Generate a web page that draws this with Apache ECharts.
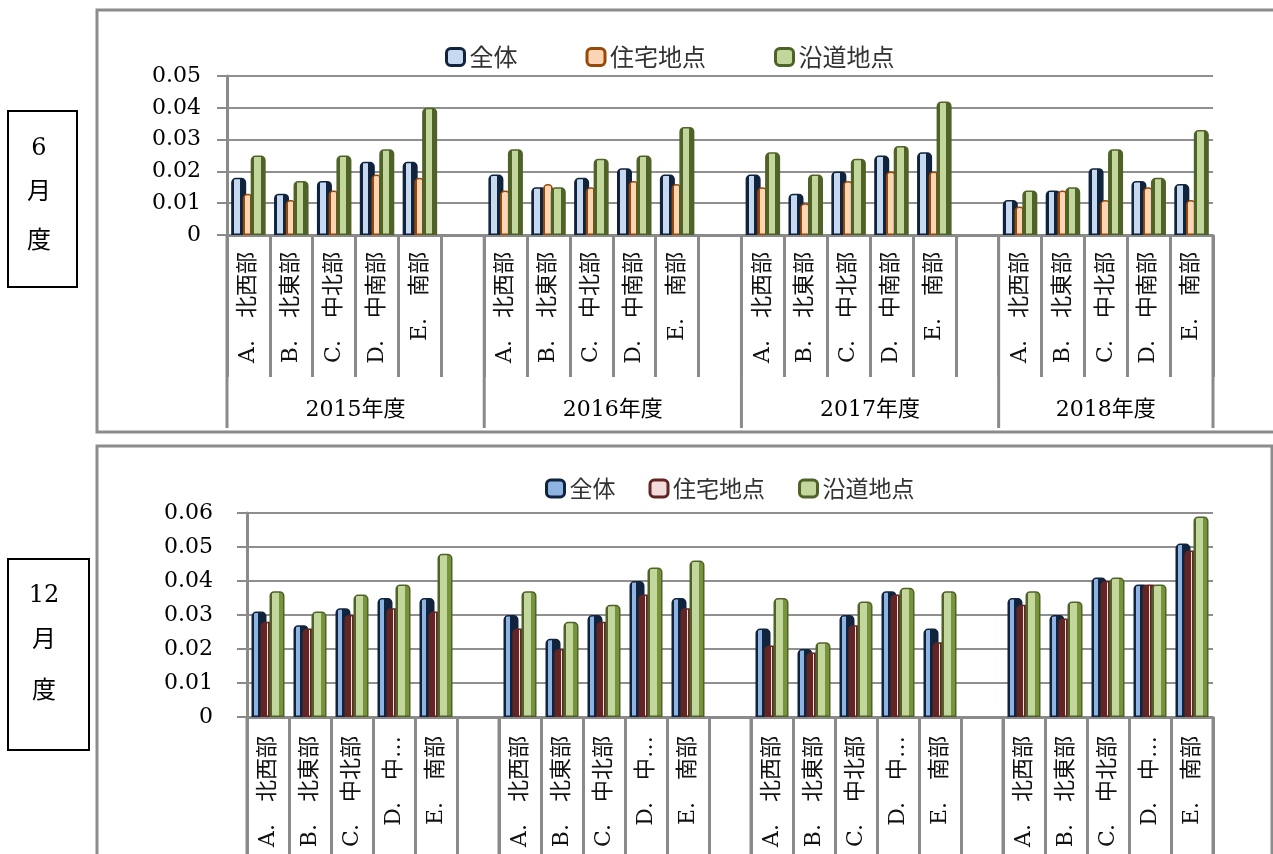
<!DOCTYPE html>
<html><head><meta charset="utf-8">
<script src="https://cdn.jsdelivr.net/npm/echarts@6/dist/echarts.min.js"></script>
<style>html,body{margin:0;padding:0;background:#fff;}#c{width:1273px;height:854px;}</style>
</head><body><div id="c"></div>
<script>
// ---------- data ----------
const seriesNames = ['全体', '住宅地点', '沿道地点'];
const years = ['2015年度', '2016年度', '2017年度', '2018年度'];
const regionsTop = ['A.\u3000北西部', 'B.\u3000北東部', 'C.\u3000中北部', 'D.\u3000中南部', 'E.\u3000南部'];
const regionsBottom = ['A.\u3000北西部', 'B.\u3000北東部', 'C.\u3000中北部', 'D.\u3000中…', 'E.\u3000南部'];
const yTicksTop = [0, 0.01, 0.02, 0.03, 0.04, 0.05];
const yTicksBottom = [0, 0.01, 0.02, 0.03, 0.04, 0.05, 0.06];
const monthTop = ['6', '月', '度'];
const monthBottom = ['12', '月', '度'];

// June (6月度): per year, regions A..E
const junAll  = [[0.018,0.013,0.017,0.023,0.023],[0.019,0.015,0.018,0.021,0.019],[0.019,0.013,0.020,0.025,0.026],[0.011,0.014,0.021,0.017,0.016]];
const junRes  = [[0.013,0.011,0.014,0.019,0.018],[0.014,0.016,0.015,0.017,0.016],[0.015,0.010,0.017,0.020,0.020],[0.009,0.014,0.011,0.015,0.011]];
const junRoad = [[0.025,0.017,0.025,0.027,0.040],[0.027,0.015,0.024,0.025,0.034],[0.026,0.019,0.024,0.028,0.042],[0.014,0.015,0.027,0.018,0.033]];
// December (12月度)
const decAll  = [[0.031,0.027,0.032,0.035,0.035],[0.030,0.023,0.030,0.040,0.035],[0.026,0.020,0.030,0.037,0.026],[0.035,0.030,0.041,0.039,0.051]];
const decRes  = [[0.028,0.026,0.030,0.032,0.031],[0.026,0.020,0.028,0.036,0.032],[0.021,0.019,0.027,0.036,0.022],[0.033,0.029,0.040,0.039,0.049]];
const decRoad = [[0.037,0.031,0.036,0.039,0.048],[0.037,0.028,0.033,0.044,0.046],[0.035,0.022,0.034,0.038,0.037],[0.037,0.034,0.041,0.039,0.059]];

// ---------- helpers ----------
function flatCats(regions) {
  const out = [];
  years.forEach((y, i) => { regions.forEach(r => out.push(r)); if (i < years.length - 1) out.push(''); });
  return out;
}
function flatVals(groups) {
  const out = [];
  groups.forEach((g, i) => { g.forEach(v => out.push(v)); if (i < groups.length - 1) out.push(null); });
  return out;
}
function grad(stops) {
  return new echarts.graphic.LinearGradient(0, 0, 1, 0, stops.map(s => ({offset: s[0], color: s[1]})));
}
function band(dark, light, a, b, dark2) {
  dark2 = dark2 || dark;
  return grad([[0, dark], [a, dark], [a, light], [b, light], [b, dark2], [1, dark2]]);
}

const catTop = flatCats(regionsTop);
const catBottom = flatCats(regionsBottom);

const numFont = '"DejaVu Serif", "Noto Sans CJK JP"';
const axisGray = '#8a8a8a';

const styles = {
  top: [
    {dark: '#10243e', light: '#c6d9f1', a: 0.2, b: 0.58},
    {dark: '#984807', light: '#fcd5b5', a: 0.22, b: 0.76},
    {dark: '#4f6228', light: '#c3d69b', a: 0.24, b: 0.66}
  ],
  bottom: [
    {dark: '#10243e', light: '#8db4e2', a: 0.14, b: 0.45},
    {dark: '#632523', light: '#f2dcdb', a: 0.42, b: 0.52},
    {dark: '#4f6228', light: '#c3d69b', a: 0.14, b: 0.66, dark2: '#77933c'}
  ]
};

function makeSeries(idx, datas, st, widths) {
  return datas.map((d, i) => ({
    name: seriesNames[i],
    type: 'bar',
    xAxisIndex: idx, yAxisIndex: idx,
    data: flatVals(d),
    barWidth: widths[i],
    barGap: idx === 0 ? '-22%' : '-40%',
    itemStyle: {
      color: band(st[i].dark, st[i].light, st[i].a, st[i].b, st[i].dark2),
      borderColor: st[i].dark, borderWidth: 1.5, borderRadius: [4, 4, 0, 0]
    }
  }));
}

function xAxisCfg(idx, cats, margin) {
  return {
    type: 'category', gridIndex: idx, data: cats,
    axisLine: {lineStyle: {color: axisGray, width: 3}},
    axisTick: {show: true, interval: 0, length: 142, lineStyle: {color: axisGray, width: 3}},
    axisLabel: {interval: 0, rotate: 90, margin: margin, fontSize: 22, fontFamily: numFont, color: '#111'},
    splitLine: {show: false}
  };
}
function yAxisCfg(idx, ticks, margin) {
  return {
    type: 'value', gridIndex: idx, min: ticks[0], max: ticks[ticks.length - 1], interval: ticks[1] - ticks[0],
    axisLine: {show: true, lineStyle: {color: axisGray, width: 3}},
    axisTick: {show: true, length: 10, lineStyle: {color: axisGray, width: 2}},
    axisLabel: {margin: margin, fontSize: 22, fontFamily: numFont, color: '#000',
      formatter: v => (v === 0 ? '0' : v.toFixed(2))},
    splitLine: {show: true, lineStyle: {color: '#8f8f8f', width: 2}}
  };
}

function legendCfg(st, left, top, fontSize, gap) {
  return {
    left: left, top: top, itemWidth: 18, itemHeight: 17, itemGap: gap,
    icon: 'roundRect',
    textStyle: {fontSize: fontSize, fontFamily: '"Noto Sans CJK JP"', color: '#333'},
    data: seriesNames.map((n, i) => ({name: n, itemStyle: {color: st[i].light, borderColor: st[i].dark, borderWidth: 3}}))
  };
}

const chart = echarts.init(document.getElementById('c'), null, {renderer: 'canvas'});
const option = {
  animation: false,
  backgroundColor: '#fff',
  grid: [
    {left: 227, right: 60, top: 76, height: 159},
    {left: 247, right: 60, top: 513, height: 204}
  ],
  legend: [
    legendCfg(styles.top, 440, 40, 24, 68),
    legendCfg(styles.bottom, 540, 472, 23, 33)
  ],
  xAxis: [xAxisCfg(0, catTop, 17), xAxisCfg(1, catBottom, 19)],
  yAxis: [yAxisCfg(0, yTicksTop, 26), yAxisCfg(1, yTicksBottom, 34)],
  series: [].concat(
    makeSeries(0, [junAll, junRes, junRoad], styles.top, [15, 10, 15]),
    makeSeries(1, [decAll, decRes, decRoad], styles.bottom, [15, 15, 15])
  )
};
chart.setOption(option);

function buildGraphic() {
  const g = [];
  // frames
  g.push({type: 'rect', shape: {x: 97, y: 10, width: 1200, height: 422}, style: {fill: 'none', stroke: '#8c8c8c', lineWidth: 3}, z: 0});
  g.push({type: 'rect', shape: {x: 97, y: 446, width: 1175, height: 450}, style: {fill: 'none', stroke: '#8c8c8c', lineWidth: 3}, z: 0});
  // month boxes
  const boxes = [
    {x: 8, y: 111, w: 69, h: 176, texts: monthTop, cx: 39, ys: [149, 193, 242]},
    {x: 8, y: 559, w: 81, h: 191, texts: monthBottom, cx: 44, ys: [596, 641, 692]}
  ];
  boxes.forEach(b => {
    g.push({type: 'rect', shape: {x: b.x, y: b.y, width: b.w, height: b.h}, style: {fill: 'none', stroke: '#000', lineWidth: 2}});
    b.texts.forEach((t, i) => g.push({type: 'text', x: b.cx, y: b.ys[i],
      style: {text: t, align: 'center', verticalAlign: 'middle', font: '24px ' + numFont, fill: '#000'}}));
  });
  // group separators and year labels, from the axis scale
  const per = regionsTop.length + 1;
  const total = catTop.length;
  [0, 1].forEach(ai => {
    const p0 = chart.convertToPixel({xAxisIndex: ai}, 0);
    const p1 = chart.convertToPixel({xAxisIndex: ai}, 1);
    const w = p1 - p0;
    const bx = k => p0 - w / 2 + k * w;
    const y0 = chart.convertToPixel({yAxisIndex: ai}, 0);
    const yEnd = ai === 0 ? 428 : 940;
    const yLab = ai === 0 ? 410 : 900;
    const bounds = [];
    years.forEach((yr, i) => {
      const s = i * per, e = Math.min(s + per, total);
      bounds.push(s);
      if (i === years.length - 1) bounds.push(e);
      g.push({type: 'text', x: (bx(s) + bx(e)) / 2, y: yLab,
        style: {text: yr, align: 'center', verticalAlign: 'middle', font: '22px ' + numFont, fill: '#000'}});
    });
    bounds.forEach(k => g.push({type: 'line', shape: {x1: bx(k), y1: y0, x2: bx(k), y2: yEnd},
      style: {stroke: axisGray, lineWidth: 3}}));
  });
  return g;
}
chart.setOption({graphic: buildGraphic()});
</script>
</body></html>
